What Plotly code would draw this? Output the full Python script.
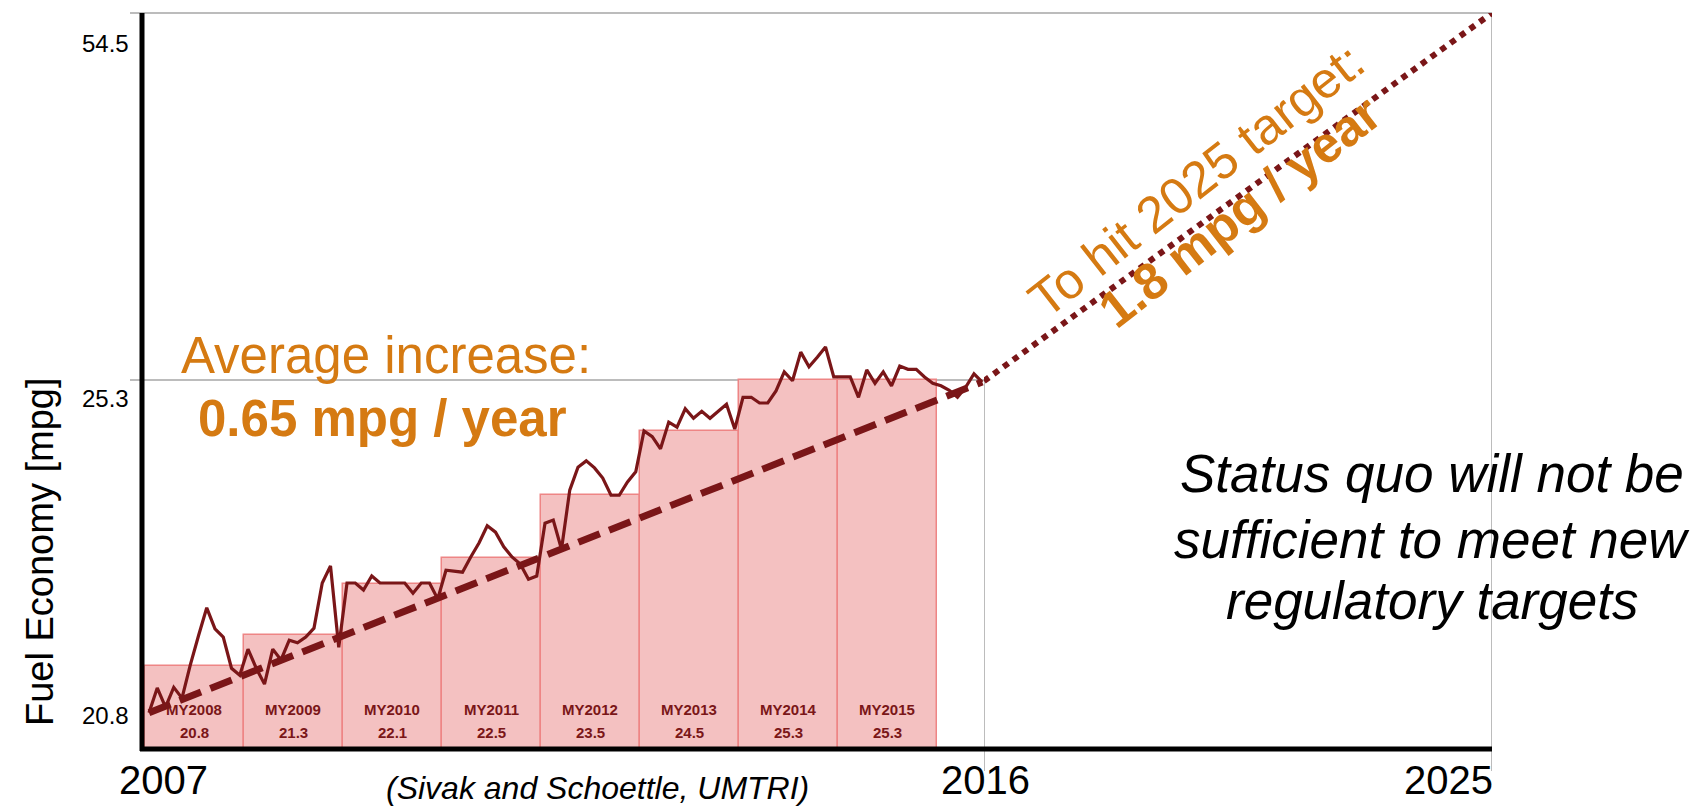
import plotly.graph_objects as go

# ---------------- data ----------------
model_years = ["MY2008", "MY2009", "MY2010", "MY2011", "MY2012", "MY2013", "MY2014", "MY2015"]
model_year_mpg = [20.8, 21.3, 22.1, 22.5, 23.5, 24.5, 25.3, 25.3]

# monthly sales-weighted fuel economy, Oct 2007 .. Mar 2016 (months since Oct 2007)
monthly_mpg = [
    20.07, 20.46, 20.16, 20.47, 20.30, 20.82, 21.28, 21.72, 21.39, 21.26,
    20.77, 20.66, 21.07, 20.77, 20.52, 21.07, 20.90, 21.21, 21.17, 21.26,
    21.40, 22.11, 22.38, 21.10, 22.11, 22.11, 22.00, 22.22, 22.11, 22.11,
    22.11, 22.11, 21.95, 22.11, 22.11, 21.86, 22.31, 22.30, 22.28, 22.52,
    22.74, 23.01, 22.91, 22.68, 22.52, 22.41, 22.17, 22.22, 23.05, 23.10,
    22.64, 23.57, 23.93, 24.03, 23.92, 23.76, 23.49, 23.49, 23.70, 23.86,
    24.50, 24.41, 24.22, 24.64, 24.56, 24.85, 24.70, 24.81, 24.70, 24.81,
    24.92, 24.53, 25.03, 25.03, 24.94, 24.94, 25.13, 25.43, 25.29, 25.74,
    25.51, 25.66, 25.82, 25.35, 25.35, 25.35, 25.03, 25.46, 25.25, 25.43,
    25.21, 25.52, 25.47, 25.47, 25.35, 25.25, 25.21, 25.14, 25.03, 25.19,
    25.40, 25.27,
]

target_years = [2016, 2025]
target_mpg = [25.3, 54.5]

y_tick_labels = ["20.8", "25.3", "54.5"]
x_tick_labels = ["2007", "2016", "2025"]
source_text = "(Sivak and Schoettle, UMTRI)"

# ---------------- styling ----------------
W, H = 1698, 811
L, R, T, B = 142, 1698 - 1492, 13, 811 - 749
PW, PH = W - L - R, H - T - B

MAROON = "#7A1618"
ORANGE = "#D57A12"
BAR_FILL = "#F4C1C1"
BAR_EDGE = "#EE8585"
GREY = "#A6A6A6"
FONT = "Liberation Sans, Arial, sans-serif"


def px_x(p):
    return (p - L) / PW


def px_y(p):
    return (H - B - p) / PH


split = px_x(984)  # 2016 position

months = list(range(len(monthly_mpg)))
bar_x = [12 * i + 5.5 for i in range(len(model_years))]

fig = go.Figure()

fig.add_trace(go.Bar(
    x=bar_x, y=model_year_mpg, width=12,
    marker=dict(color=BAR_FILL, line=dict(color=BAR_EDGE, width=1.5)),
    xaxis="x", yaxis="y", hoverinfo="skip",
))

fig.add_trace(go.Scatter(
    x=months, y=monthly_mpg, mode="lines",
    line=dict(color=MAROON, width=3.2), xaxis="x", yaxis="y",
))

fig.add_trace(go.Scatter(
    x=[months[0], months[-1]], y=[monthly_mpg[0], monthly_mpg[-1]], mode="lines",
    line=dict(color=MAROON, width=7, dash="23px,10px"), xaxis="x", yaxis="y",
))

fig.add_trace(go.Scatter(
    x=target_years, y=target_mpg, mode="lines",
    line=dict(color=MAROON, width=6, dash="6px,6px"), xaxis="x2", yaxis="y2",
))


def ann(x, y, text, size, color="black", angle=0, xanchor="center", xref="paper", yref="paper",
        yshift=0):
    return dict(x=x, y=y, xref=xref, yref=yref, text=text, showarrow=False, textangle=angle,
                xanchor=xanchor, yanchor="middle", yshift=yshift,
                font=dict(family=FONT, size=size, color=color))


annotations = []
# bar labels
for xc, my, v in zip(bar_x, model_years, model_year_mpg):
    annotations.append(ann(xc, 19.5, f"<b>{my}</b>", 15, MAROON, xref="x", yref="y", yshift=40))
    annotations.append(ann(xc, 19.5, f"<b>{v}</b>", 15, MAROON, xref="x", yref="y", yshift=17))

# y tick labels
for lab, py in zip(y_tick_labels, [715, 398, 43]):
    annotations.append(ann(px_x(131), px_y(py), lab, 24, xanchor="right"))
# x tick labels
for lab, pxc in zip(x_tick_labels, [163, 985, 1448]):
    annotations.append(ann(px_x(pxc), px_y(780), lab, 40))

annotations += [
    ann(px_x(40), px_y(552), "Fuel Economy [mpg]", 38, angle=-90),
    ann(px_x(597), px_y(788), f"<i>{source_text}</i>", 32),
    ann(px_x(386), px_y(355), "Average increase:", 51, ORANGE),
    ann(px_x(382), px_y(419), "<b>0.65 mpg / year</b>", 51, ORANGE),
    ann(px_x(1196), px_y(180), "To hit 2025 target:", 51, ORANGE, angle=-38),
    ann(px_x(1240), px_y(212), "<b>1.8 mpg / year</b>", 51, ORANGE, angle=-38),
]
for txt, py in zip(["Status quo will not be", "sufficient to meet new", "regulatory targets"],
                   [474, 539, 600]):
    annotations.append(ann(px_x(1432), px_y(py), f"<i>{txt}</i>", 53))

shapes = [
    # grey reference lines
    dict(type="line", xref="paper", yref="paper", x0=px_x(130), x1=1, y0=1, y1=1,
         line=dict(color=GREY, width=1.5), layer="below"),
    dict(type="line", xref="paper", yref="y", x0=px_x(130), x1=split, y0=25.3, y1=25.3,
         line=dict(color=GREY, width=1.5), layer="below"),
    dict(type="line", xref="x2", yref="paper", x0=2016, x1=2016, y0=px_y(771), y1=px_y(381),
         line=dict(color=GREY, width=1.5), layer="below"),
    dict(type="line", xref="x2", yref="paper", x0=2025, x1=2025, y0=px_y(771), y1=1,
         line=dict(color=GREY, width=1.5), layer="below"),
    # black axes
    dict(type="line", xref="paper", yref="paper", x0=px_x(140), x1=1, y0=0, y1=0,
         line=dict(color="black", width=5), layer="above"),
    dict(type="line", xref="paper", yref="paper", x0=0, x1=0, y0=px_y(751), y1=1,
         line=dict(color="black", width=5), layer="above"),
]

fig.update_layout(
    width=W, height=H,
    margin=dict(l=L, r=R, t=T, b=B, pad=0),
    paper_bgcolor="white", plot_bgcolor="rgba(0,0,0,0)",
    showlegend=False, bargap=0,
    xaxis=dict(domain=[0, split], range=[(L - 149) / 8.25, (984 - 149) / 8.25], visible=False),
    xaxis2=dict(domain=[split, 1], range=[2016, 2025], visible=False, anchor="y2"),
    yaxis=dict(domain=[0, 1], range=[19.5, 19.5 + PH / 63.6], visible=False, anchor="x"),
    yaxis2=dict(domain=[0, 1], range=[25.3 - (54.5 - 25.3), 54.5], visible=False, anchor="x2"),
    annotations=annotations, shapes=shapes,
)

fig.write_html("out.html", config={"displayModeBar": False},
               post_script="document.body.style.margin='0px';")
